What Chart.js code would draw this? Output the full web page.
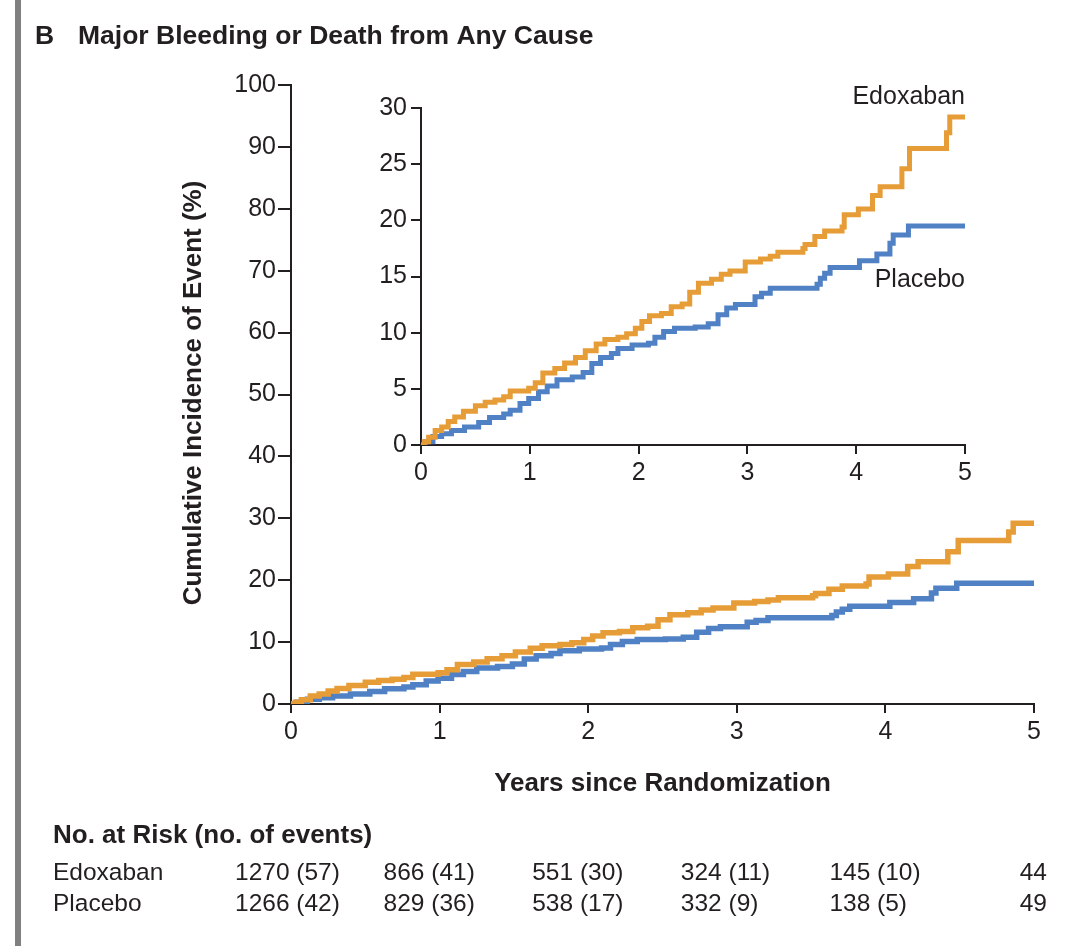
<!DOCTYPE html>
<html>
<head>
<meta charset="utf-8">
<script src="https://cdn.jsdelivr.net/npm/chart.js@4.4.1/dist/chart.umd.min.js"></script>
<style>
  html, body { margin: 0; padding: 0; background: #ffffff; }
  #wrap { position: relative; width: 1071px; height: 946px; overflow: hidden; background: #ffffff; }
  #leftRule { position: absolute; left: 15px; top: 0; width: 6px; height: 946px; background: #808080; }
  #main { position: absolute; left: 0; top: 0; }
  #inset { position: absolute; left: 340px; top: 60px; }
</style>
</head>
<body>
<div id="wrap">
  <div id="leftRule"></div>
  <canvas id="main" width="1071" height="946"></canvas>
  <canvas id="inset" width="660" height="440"></canvas>
</div>
<script>
// Kaplan-Meier style cumulative incidence (%), step times in years
const edoxabanYears = [0, 0.03, 0.07, 0.13, 0.19, 0.25, 0.31, 0.39, 0.50, 0.59, 0.68, 0.76, 0.82, 0.99,
  1.05, 1.12, 1.23, 1.32, 1.42, 1.51, 1.61, 1.69, 1.81, 1.89, 1.97, 2.03, 2.10, 2.21, 2.30, 2.40,
  2.47, 2.55, 2.67, 2.76, 2.84, 2.98, 3.12, 3.21, 3.28, 3.51, 3.53, 3.62, 3.71, 3.87, 3.89, 4.02,
  4.15, 4.22, 4.42, 4.49, 4.83, 4.86, 5.00];
const edoxabanPct = [0, 0.3, 0.7, 1.3, 1.6, 2.1, 2.5, 3.0, 3.5, 3.8, 4.0, 4.3, 4.8, 5.05,
  5.55, 6.4, 6.8, 7.3, 7.8, 8.4, 9.0, 9.4, 9.6, 9.9, 10.4, 11.0, 11.5, 11.7, 12.3, 12.55,
  13.6, 14.4, 14.75, 15.2, 15.5, 16.3, 16.55, 16.8, 17.15, 17.5, 17.85, 18.55, 19.05, 19.4, 20.5, 21.0,
  22.2, 23.0, 24.6, 26.4, 27.8, 29.2, 29.2];

const placeboYears = [0, 0.04, 0.11, 0.19, 0.28, 0.40, 0.53, 0.63, 0.76, 0.82, 0.91, 0.99, 1.08, 1.16,
  1.25, 1.39, 1.49, 1.57, 1.65, 1.75, 1.81, 1.94, 2.09, 2.15, 2.23, 2.33, 2.52, 2.64, 2.73, 2.81,
  2.89, 3.07, 3.13, 3.21, 3.64, 3.67, 3.71, 3.76, 4.03, 4.19, 4.31, 4.34, 4.48, 5.00];
const placeboPct = [0, 0.3, 0.75, 1.0, 1.3, 1.6, 2.0, 2.45, 2.75, 3.1, 3.7, 4.15, 4.75, 5.25,
  5.8, 6.05, 6.45, 7.25, 7.8, 8.15, 8.6, 8.9, 9.05, 9.6, 10.1, 10.4, 10.5, 10.8, 11.6, 12.2,
  12.5, 13.2, 13.5, 13.95, 14.3, 14.85, 15.3, 15.8, 16.4, 17.0, 17.95, 18.7, 19.5, 19.5];

const yearTicks = [0, 1, 2, 3, 4, 5];
const mainPctTicks = [0, 10, 20, 30, 40, 50, 60, 70, 80, 90, 100];
const insetPctTicks = [0, 5, 10, 15, 20, 25, 30];

const groupNames = ['Edoxaban', 'Placebo'];
const edoxabanAtRisk = ['1270 (57)', '866 (41)', '551 (30)', '324 (11)', '145 (10)', '44'];
const placeboAtRisk = ['1266 (42)', '829 (36)', '538 (17)', '332 (9)', '138 (5)', '49'];

const ORANGE = '#E79D37';
const BLUE = '#4F81C4';
const INK = '#231F20';
const SANS = '"Liberation Sans", Arial, sans-serif';

function toPoints(xs, ys) {
  return xs.map((x, i) => ({ x: x, y: ys[i] }));
}

function seriesDatasets(width) {
  return [
    { label: groupNames[0], data: toPoints(edoxabanYears, edoxabanPct), borderColor: ORANGE,
      borderWidth: width, stepped: true, pointRadius: 0, fill: false, borderCapStyle: 'butt' },
    { label: groupNames[1], data: toPoints(placeboYears, placeboPct), borderColor: BLUE,
      borderWidth: width, stepped: true, pointRadius: 0, fill: false, borderCapStyle: 'butt' }
  ];
}

function axis(tickValues, min, max, opts) {
  return {
    type: 'linear', min: min, max: max,
    afterBuildTicks: s => { s.ticks = tickValues.map(v => ({ value: v })); },
    afterFit: opts.fit,
    grid: { drawOnChartArea: false, drawTicks: true, tickLength: opts.tickLength, color: INK, lineWidth: 2 },
    border: { display: true, color: INK, width: 2 },
    ticks: { color: INK, font: { family: SANS, size: 25 }, padding: opts.padding, maxRotation: 0, autoSkip: false },
    title: { display: false }
  };
}

// Titles, axis labels and the number-at-risk table
const mainText = {
  id: 'mainText',
  afterDraw(chart) {
    const ctx = chart.ctx;
    const xs = chart.scales.x;
    ctx.save();
    ctx.fillStyle = INK;
    ctx.textBaseline = 'alphabetic';
    ctx.textAlign = 'left';
    ctx.font = 'bold 26.5px ' + SANS;
    ctx.fillText('B', 35, 44);
    ctx.fillText('Major Bleeding or Death from Any Cause', 78, 44);

    ctx.font = 'bold 26px ' + SANS;
    ctx.textAlign = 'center';
    ctx.textBaseline = 'middle';
    ctx.fillText('Years since Randomization', (chart.chartArea.left + chart.chartArea.right) / 2, 784);
    ctx.save();
    ctx.translate(194, 393);
    ctx.rotate(-Math.PI / 2);
    ctx.fillText('Cumulative Incidence of Event (%)', 0, 0);
    ctx.restore();

    ctx.textAlign = 'left';
    ctx.fillText('No. at Risk (no. of events)', 53, 836);

    ctx.font = '24.5px ' + SANS;
    const rows = [edoxabanAtRisk, placeboAtRisk];
    const rowY = [873, 904];
    rows.forEach((row, r) => {
      ctx.textAlign = 'left';
      ctx.fillText(groupNames[r], 53, rowY[r]);
      row.forEach((txt, i) => {
        const px = xs.getPixelForValue(yearTicks[i]);
        if (i < row.length - 1) {
          ctx.textAlign = 'left';
          ctx.fillText(txt, px - 56, rowY[r]);
        } else {
          ctx.textAlign = 'right';
          ctx.fillText(txt, px + 13, rowY[r]);
        }
      });
    });
    ctx.restore();
  }
};

const insetText = {
  id: 'insetText',
  afterDraw(chart) {
    const ctx = chart.ctx;
    const ys = chart.scales.y;
    const right = chart.chartArea.right;
    ctx.save();
    ctx.fillStyle = INK;
    ctx.font = '25px ' + SANS;
    ctx.textAlign = 'right';
    ctx.textBaseline = 'middle';
    ctx.fillText(groupNames[0], right, ys.getPixelForValue(30) - 11);
    ctx.fillText(groupNames[1], right, ys.getPixelForValue(14.7));
    ctx.restore();
  }
};

new Chart(document.getElementById('main'), {
  type: 'line',
  data: { datasets: seriesDatasets(5.5) },
  options: {
    responsive: false, animation: false, devicePixelRatio: 1,
    layout: { padding: { left: 0, right: 37, top: 85, bottom: 0 } },
    plugins: { legend: { display: false }, tooltip: { enabled: false } },
    scales: {
      x: axis(yearTicks, 0, 5, { tickLength: 9, padding: 4, fit: s => { s.height = 242; } }),
      y: axis(mainPctTicks, 0, 100, { tickLength: 13, padding: 2, fit: s => { s.width = 291; } })
    }
  },
  plugins: [mainText]
});

new Chart(document.getElementById('inset'), {
  type: 'line',
  data: { datasets: seriesDatasets(5) },
  options: {
    responsive: false, animation: false, devicePixelRatio: 1,
    layout: { padding: { left: 0, right: 35, top: 48, bottom: 0 } },
    plugins: { legend: { display: false }, tooltip: { enabled: false } },
    scales: {
      x: axis(yearTicks, 0, 5, { tickLength: 9, padding: 4, fit: s => { s.height = 55; } }),
      y: axis(insetPctTicks, 0, 30, { tickLength: 10, padding: 4, fit: s => { s.width = 81; } })
    }
  },
  plugins: [insetText]
});
</script>
</body>
</html>
